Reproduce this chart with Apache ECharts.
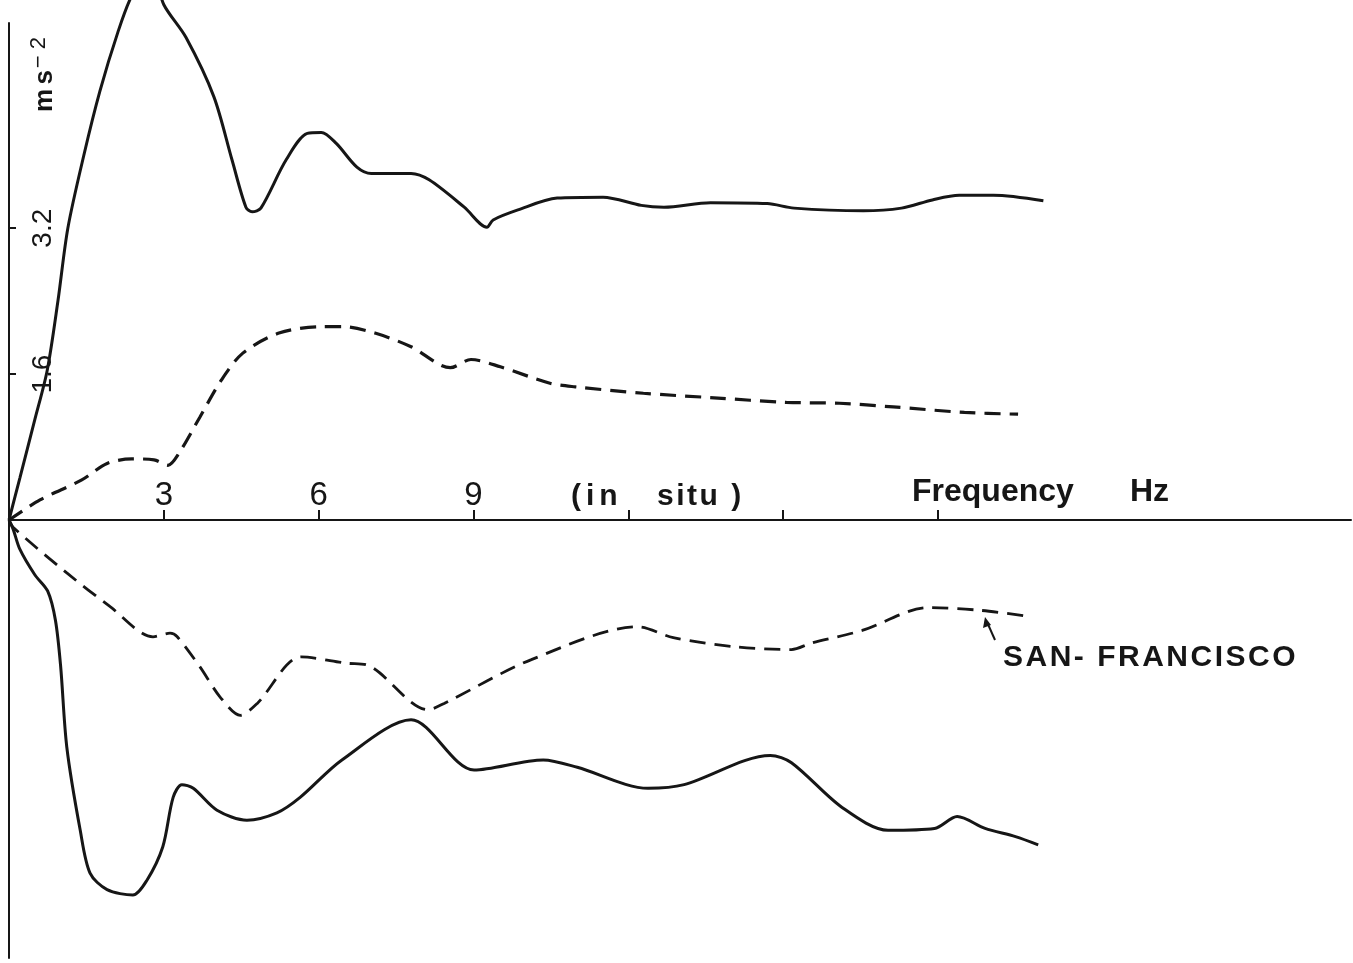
<!DOCTYPE html>
<html><head><meta charset="utf-8">
<script src="https://cdn.jsdelivr.net/npm/echarts@6/dist/echarts.min.js"></script>
<style>html,body{margin:0;padding:0;background:#fff}#c{width:1353px;height:963px}</style>
</head><body><div id="c"></div>
<script>
// Frequency (Hz) vs acceleration (m s^-2); lower half plotted as negative
const upperSolid = [[0,0],[0.21,0.46],[0.5,1.1],[0.74,1.64],[0.95,2.41],[1.14,3.2],[1.45,4.0],[1.76,4.7],[2.11,5.35],[2.38,5.75],[2.75,6.05],[3.0,5.65],[3.43,5.29],[3.97,4.64],[4.32,3.95],[4.59,3.43],[4.71,3.38],[4.88,3.42],[5.37,3.95],[5.78,4.24],[6.05,4.25],[6.34,4.13],[6.74,3.87],[7.02,3.8],[7.79,3.8],[8.14,3.73],[8.82,3.43],[9.26,3.21],[9.38,3.29],[9.86,3.4],[10.62,3.53],[11.51,3.54],[12.25,3.45],[12.69,3.43],[13.59,3.48],[14.69,3.47],[15.21,3.42],[16.55,3.39],[17.29,3.42],[17.89,3.51],[18.41,3.56],[19.07,3.56],[20.04,3.5]];
const upperDashed = [[0,0],[0.6,0.22],[1.41,0.44],[1.9,0.62],[2.38,0.67],[2.81,0.66],[3.08,0.6],[3.29,0.73],[3.7,1.13],[4.11,1.53],[4.53,1.83],[5.23,2.05],[6.05,2.12],[6.47,2.12],[7.09,2.05],[7.79,1.9],[8.55,1.67],[8.95,1.76],[9.52,1.68],[10.48,1.5],[10.97,1.46],[12.29,1.39],[13.66,1.34],[15.06,1.29],[16.09,1.28],[17.13,1.24],[18.51,1.18],[19.55,1.16]];
const lowerDashed = [[0,0],[0.08,-0.08],[1.12,-0.58],[1.96,-0.95],[2.79,-1.28],[3.12,-1.24],[3.26,-1.28],[3.7,-1.61],[4.09,-1.94],[4.48,-2.14],[4.81,-2.01],[5.66,-1.5],[6.55,-1.57],[6.94,-1.59],[8.12,-2.08],[8.43,-2.01],[10.12,-1.53],[12.19,-1.17],[12.87,-1.29],[14.07,-1.39],[15.16,-1.42],[15.54,-1.35],[16.53,-1.21],[17.81,-0.96],[18.82,-0.99],[19.81,-1.06]];
const lowerSolid = [[0,0],[0.08,-0.1],[0.21,-0.32],[0.5,-0.6],[0.75,-0.78],[0.9,-1.1],[1.0,-1.6],[1.12,-2.49],[1.38,-3.4],[1.57,-3.87],[1.9,-4.05],[2.4,-4.11],[2.67,-3.95],[2.98,-3.58],[3.18,-3.04],[3.35,-2.9],[3.57,-2.94],[4.03,-3.18],[4.61,-3.29],[5.19,-3.21],[5.64,-3.04],[6.45,-2.63],[7.79,-2.19],[9.01,-2.74],[10.35,-2.63],[11.01,-2.71],[12.38,-2.94],[13.08,-2.9],[14.75,-2.58],[15.16,-2.66],[16.14,-3.15],[17.03,-3.4],[17.93,-3.38],[18.37,-3.25],[18.91,-3.38],[19.5,-3.47],[19.94,-3.56]];
const xTicks = [3,6,9,12,15,18];
const xTickLabels = ['3','6','9'];
const yTicks = [1.6,3.2];
const yTickLabels = ['1.6','3.2'];
const xTitleWord = 'Frequency';
const xTitleUnit = 'Hz';
const noteLeft = '(in';
const noteRight = 'situ )';
const siteLabel = 'SAN- FRANCISCO';
const yUnit = 'ms';
const yUnitExp = '\u2212 2';

const FONT = '"Liberation Sans","Arial",sans-serif';
const INK = '#161616';
const spaced = (s, sp) => s.split('').join(sp);
const HS = '\u200A';

const chart = echarts.init(document.getElementById('c'), null, {renderer:'canvas'});
const solid = {color: INK, width: 3, type: 'solid'};
const dashed = {color: INK, width: 3.2, type: [16, 9]};
chart.setOption({
  animation: false,
  backgroundColor: '#fff',
  grid: [
    {left: 9, right: 2, top: 23, height: 497, containLabel: false},
    {left: 9, right: 2, top: 520, height: 438, containLabel: false}
  ],
  xAxis: [{
    gridIndex: 0, type: 'value', min: 0, max: 26, position: 'bottom',
    axisLine: {show: true, onZero: false, lineStyle: {color: INK, width: 2}},
    axisTick: {show: true, inside: true, length: 10, customValues: xTicks, lineStyle: {color: INK, width: 2}},
    axisLabel: {show: true, inside: true, margin: 8, customValues: xTicks.slice(0, xTickLabels.length),
      formatter: v => xTickLabels[xTicks.indexOf(v)] || '', color: INK, fontFamily: FONT, fontSize: 33},
    splitLine: {show: false}
  }, {
    gridIndex: 1, type: 'value', min: 0, max: 26, show: false
  }],
  yAxis: [{
    gridIndex: 0, type: 'value', min: 0, max: 5.45,
    axisLine: {show: true, onZero: false, lineStyle: {color: INK, width: 2}},
    axisTick: {show: true, inside: true, length: 7, customValues: yTicks, lineStyle: {color: INK, width: 2}},
    axisLabel: {show: true, inside: true, rotate: 90, margin: 20, customValues: yTicks,
      align: 'center', verticalAlign: 'top',
      formatter: v => yTickLabels[yTicks.indexOf(v)] || '', color: INK, fontFamily: FONT, fontSize: 28},
    splitLine: {show: false}
  }, {
    gridIndex: 1, type: 'value', min: -4.8, max: 0,
    axisLine: {show: true, onZero: false, lineStyle: {color: INK, width: 2}},
    axisTick: {show: false}, axisLabel: {show: false}, splitLine: {show: false}
  }],
  series: [
    {type: 'line', xAxisIndex: 0, yAxisIndex: 0, data: upperSolid, showSymbol: false, smooth: 0.3, clip: false, lineStyle: solid},
    {type: 'line', xAxisIndex: 0, yAxisIndex: 0, data: upperDashed, showSymbol: false, smooth: 0.3, clip: false, lineStyle: dashed},
    {type: 'line', xAxisIndex: 1, yAxisIndex: 1, data: lowerDashed, showSymbol: false, smooth: 0.3, clip: false, lineStyle: Object.assign({}, dashed, {width: 2.8})},
    {type: 'line', xAxisIndex: 1, yAxisIndex: 1, data: lowerSolid, showSymbol: false, smooth: 0.3, clip: false, lineStyle: solid}
  ],
  graphic: [
    {type: 'text', x: 571, y: 497, style: {text: spaced(noteLeft, HS + HS), fill: INK, font: 'bold 30px ' + FONT, textVerticalAlign: 'middle'}},
    {type: 'text', x: 657, y: 497, style: {text: spaced(noteRight, HS), fill: INK, font: 'bold 30px ' + FONT, textVerticalAlign: 'middle'}},
    {type: 'text', x: 912, y: 492, style: {text: xTitleWord, fill: INK, font: 'bold 32px ' + FONT, textVerticalAlign: 'middle'}},
    {type: 'text', x: 1130, y: 492, style: {text: xTitleUnit, fill: INK, font: 'bold 32px ' + FONT, textVerticalAlign: 'middle'}},
    {type: 'text', x: 1003, y: 658, style: {text: spaced(siteLabel, HS), fill: INK, font: 'bold 30px ' + FONT, textVerticalAlign: 'middle'}},
    {type: 'line', shape: {x1: 995, y1: 640, x2: 987, y2: 622}, style: {stroke: INK, lineWidth: 2}},
    {type: 'polygon', shape: {points: [[985, 617], [983, 628], [991, 625]]}, style: {fill: INK}},
    {type: 'text', x: 62, y: 112, rotation: Math.PI / 2,
      style: {text: '{a|' + spaced(yUnit, HS + HS) + '}{b|' + HS + yUnitExp + '}', rich: {
        a: {font: 'bold 26px ' + FONT, fill: INK},
        b: {font: '22px ' + FONT, fill: INK, verticalAlign: 'top', padding: [0, 0, 12, 0]}
      }, textVerticalAlign: 'bottom'}}
  ]
});
</script>
</body></html>
